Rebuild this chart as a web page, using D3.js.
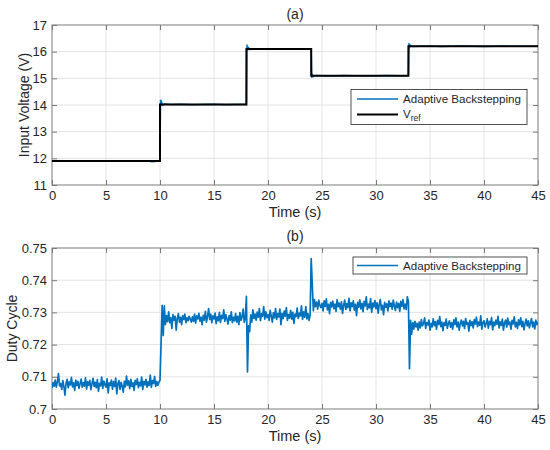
<!DOCTYPE html>
<html><head><meta charset="utf-8">
<script src="https://cdn.jsdelivr.net/npm/d3@7"></script>
<style>body{margin:0;background:#fff}svg{display:block}text{font-family:"Liberation Sans",Arial,Helvetica,sans-serif;fill:#262626}</style>
</head><body><svg id="c" width="550" height="450"></svg>
<script>
// ---- data ----
const xTicks = [0,5,10,15,20,25,30,35,40,45];
const vTicks = [11,12,13,14,15,16,17];
const dTicks = [0.7,0.71,0.72,0.73,0.74,0.75];
const dTickLabels = ["0.7","0.71","0.72","0.73","0.74","0.75"];
const refTimes = [0,10,18,24,33,45];
const refValues = [11.9,14.02,16.1,15.1,16.2,16.2];
const vTime = [0,1,2,3,4,5,6,7,8,9,9.3,9.9,10,10.05,10.1,10.15,10.25,10.4,11,12,13,14,15,16,17,17.95,18,18.05,18.1,18.2,18.35,18.6,19,20,21,22,23,23.95,24,24.05,24.1,24.2,24.4,25,26,27,28,29,30,31,32,32.95,33,33.05,33.1,33.2,33.4,34,35,36,37,38,39,40,41,42,43,44,45];
const vBlue = [11.9,11.91,11.89,11.9,11.91,11.9,11.89,11.9,11.9,11.89,11.87,11.9,11.95,14.2,13.98,14.1,13.99,14.04,14.02,14.03,14.01,14.02,14.03,14.01,14.02,14.02,14.1,16.27,16.05,16.15,16.08,16.11,16.1,16.09,16.11,16.1,16.09,16.1,16.05,15.02,15.15,15.07,15.11,15.1,15.09,15.11,15.1,15.09,15.1,15.11,15.1,15.1,15.15,16.32,16.15,16.24,16.19,16.2,16.21,16.19,16.2,16.21,16.2,16.19,16.2,16.21,16.2,16.2,16.2];
const dStart = 0, dStep = 0.1;
const duty = [
0.7065,0.7082,0.7071,0.7090,0.7068,0.7085,0.7110,0.7072,0.7079,0.7061,
0.7088,0.7070,0.7043,0.7080,0.7092,0.7066,0.7084,0.7075,0.7098,0.7069,
0.7081,0.7058,0.7090,0.7073,0.7086,0.7064,0.7079,0.7093,0.7068,0.7082,
0.7071,0.7097,0.7062,0.7085,0.7074,0.7089,0.7060,0.7078,0.7095,0.7070,
0.7083,0.7066,0.7091,0.7055,0.7080,0.7072,0.7099,0.7064,0.7087,0.7075,
0.7068,0.7094,0.7050,0.7081,0.7073,0.7090,0.7062,0.7085,0.7070,0.7096,
0.7047,0.7079,0.7088,0.7061,0.7083,0.7071,0.7052,0.7086,0.7069,0.7102,
0.7074,0.7087,0.7063,0.7092,0.7070,0.7081,0.7058,0.7089,0.7076,0.7094,
0.7066,0.7083,0.7072,0.7099,0.7061,0.7086,0.7075,0.7092,0.7068,0.7084,
0.7073,0.7105,0.7067,0.7088,0.7079,0.7101,0.7070,0.7086,0.7074,0.7083,
0.7090,0.7205,0.7322,0.7228,0.7320,0.7262,0.7290,0.7271,0.7302,0.7268,
0.7284,0.7250,0.7293,0.7276,0.7288,0.7245,0.7282,0.7296,0.7270,0.7285,
0.7262,0.7290,0.7278,0.7295,0.7268,0.7283,0.7274,0.7288,0.7279,0.7270,
0.7286,0.7272,0.7295,0.7267,0.7289,0.7280,0.7297,0.7273,0.7285,0.7262,
0.7291,0.7276,0.7303,0.7270,0.7287,0.7312,0.7278,0.7295,0.7268,0.7289,
0.7280,0.7298,0.7265,0.7286,0.7274,0.7300,0.7269,0.7291,0.7281,0.7308,
0.7272,0.7293,0.7279,0.7264,0.7290,0.7276,0.7302,0.7268,0.7285,0.7274,
0.7296,0.7270,0.7288,0.7262,0.7299,0.7275,0.7286,0.7310,0.7269,0.7281,
0.7350,0.7115,0.7258,0.7240,0.7292,0.7270,0.7308,0.7281,0.7295,0.7276,
0.7301,0.7285,0.7312,0.7274,0.7296,0.7288,0.7318,0.7279,0.7302,0.7284,
0.7293,0.7275,0.7306,0.7289,0.7270,0.7299,0.7283,0.7312,0.7278,0.7296,
0.7286,0.7310,0.7262,0.7297,0.7281,0.7304,0.7288,0.7315,0.7275,0.7293,
0.7282,0.7306,0.7279,0.7300,0.7266,0.7295,0.7287,0.7313,0.7281,0.7298,
0.7289,0.7320,0.7278,0.7302,0.7285,0.7318,0.7280,0.7296,0.7275,0.7292,
0.7467,0.7385,0.7305,0.7340,0.7318,0.7332,0.7310,0.7338,0.7322,0.7315,
0.7328,0.7305,0.7336,0.7319,0.7342,0.7308,0.7325,0.7296,0.7331,0.7317,
0.7335,0.7312,0.7326,0.7303,0.7340,0.7318,0.7329,0.7310,0.7333,0.7297,
0.7322,0.7338,0.7309,0.7327,0.7315,0.7344,0.7305,0.7330,0.7318,0.7336,
0.7307,0.7325,0.7290,0.7331,0.7316,0.7339,0.7311,0.7328,0.7302,0.7334,
0.7320,0.7348,0.7309,0.7326,0.7314,0.7343,0.7301,0.7329,0.7317,0.7337,
0.7312,0.7330,0.7298,0.7325,0.7340,0.7308,0.7322,0.7293,0.7331,0.7316,
0.7327,0.7305,0.7336,0.7318,0.7329,0.7310,0.7338,0.7320,0.7306,0.7332,
0.7315,0.7328,0.7303,0.7334,0.7319,0.7340,0.7311,0.7326,0.7309,0.7348,
0.7335,0.7125,0.7275,0.7232,0.7268,0.7248,0.7272,0.7255,0.7266,0.7245,
0.7270,0.7252,0.7278,0.7258,0.7265,0.7283,0.7250,0.7268,0.7261,0.7276,
0.7245,0.7266,0.7255,0.7280,0.7259,0.7271,0.7248,0.7275,0.7262,0.7287,
0.7256,0.7270,0.7243,0.7268,0.7260,0.7279,0.7251,0.7265,0.7274,0.7254,
0.7268,0.7248,0.7277,0.7262,0.7283,0.7255,0.7270,0.7245,0.7266,0.7276,
0.7258,0.7272,0.7250,0.7281,0.7263,0.7269,0.7242,0.7275,0.7259,0.7271,
0.7252,0.7278,0.7264,0.7285,0.7256,0.7270,0.7260,0.7289,0.7248,0.7268,
0.7274,0.7255,0.7266,0.7280,0.7251,0.7272,0.7262,0.7284,0.7246,0.7270,
0.7259,0.7276,0.7263,0.7288,0.7252,0.7271,0.7260,0.7279,0.7245,0.7267,
0.7276,0.7254,0.7282,0.7262,0.7270,0.7248,0.7275,0.7264,0.7286,0.7255,
0.7269,0.7250,0.7277,0.7261,0.7283,0.7256,0.7272,0.7246,0.7266,0.7279,
0.7258,0.7274,0.7252,0.7268,0.7281,0.7255,0.7270,0.7249,0.7276,0.7262,
0.7270];

// ---- drawing ----
const svg = d3.select("#c");
const L = 52, R = 538;
const BLUE = "#0072BD", FRAME = "#7a7a7a", GRID = "#e3e3e3";

function panel(top, bottom, yDomain, yT, yLabels, yTitle, title, tickBase, xTitleBase) {
  const x = d3.scaleLinear().domain([0,45]).range([L,R]);
  const y = d3.scaleLinear().domain(yDomain).range([bottom, top]);
  const g = svg.append("g");
  g.append("g").selectAll("line").data(xTicks.slice(1,-1)).join("line")
    .attr("x1",d=>x(d)).attr("x2",d=>x(d)).attr("y1",top).attr("y2",bottom)
    .attr("stroke",GRID).attr("stroke-width",1);
  g.append("g").selectAll("line").data(yT.slice(1,-1)).join("line")
    .attr("y1",d=>y(d)).attr("y2",d=>y(d)).attr("x1",L).attr("x2",R)
    .attr("stroke",GRID).attr("stroke-width",1);
  const tl = 5;
  const axB = g.append("g").attr("transform",`translate(0,${bottom})`)
    .call(d3.axisBottom(x).tickValues(xTicks).tickSizeInner(-tl).tickSizeOuter(0).tickPadding(7));
  const axT = g.append("g").attr("transform",`translate(0,${top})`)
    .call(d3.axisTop(x).tickValues(xTicks).tickSizeInner(-tl).tickSizeOuter(0).tickFormat(""));
  const axL = g.append("g").attr("transform",`translate(${L},0)`)
    .call(d3.axisLeft(y).tickValues(yT).tickSizeInner(-tl).tickSizeOuter(0).tickPadding(5)
      .tickFormat((d,i)=>yLabels[i]));
  const axR = g.append("g").attr("transform",`translate(${R},0)`)
    .call(d3.axisRight(y).tickValues(yT).tickSizeInner(-tl).tickSizeOuter(0).tickFormat(""));
  [axB,axT,axL,axR].forEach(a=>{
    a.select(".domain").remove();
    a.selectAll("line").attr("stroke",FRAME);
    a.selectAll("text").attr("font-size",13).attr("fill","#262626")
      .style("font-family",'"Liberation Sans",Arial,sans-serif');
  });
  axB.selectAll("text").attr("dy",0).attr("y", tickBase - bottom);
  g.append("rect").attr("x",L).attr("y",top).attr("width",R-L).attr("height",bottom-top)
    .attr("fill","none").attr("stroke",FRAME).attr("stroke-width",1);
  svg.append("text").attr("x",(L+R)/2).attr("y",xTitleBase).attr("text-anchor","middle")
    .attr("font-size",14.5).text("Time (s)");
  svg.append("text").attr("transform",`translate(${yTitle.x},${(top+bottom)/2}) rotate(-90)`)
    .attr("text-anchor","middle").attr("font-size",14).text(yTitle.t);
  svg.append("text").attr("x",(L+R)/2).attr("y",title.y).attr("text-anchor","middle")
    .attr("font-size",14).text(title.t);
  const clip = "clip"+Math.round(top);
  svg.append("clipPath").attr("id",clip).append("rect")
    .attr("x",L).attr("y",top).attr("width",R-L).attr("height",bottom-top);
  return {x,y,clip};
}

// panel (a)
const A = panel(25,185,[11,17],vTicks,vTicks.map(String),{x:29,t:"Input Voltage (V)"},{y:19,t:"(a)"},200,217);
const lineA = d3.line().x((d,i)=>A.x(vTime[i])).y(d=>A.y(d));
svg.append("path").datum(vBlue).attr("d",lineA).attr("fill","none")
  .attr("stroke",BLUE).attr("stroke-width",1.5).attr("clip-path",`url(#${A.clip})`);
const lineRef = d3.line().curve(d3.curveStepAfter).x((d,i)=>A.x(refTimes[i])).y(d=>A.y(d));
svg.append("path").datum(refValues).attr("d",lineRef).attr("fill","none")
  .attr("stroke","#000").attr("stroke-width",2).attr("clip-path",`url(#${A.clip})`);

// legend (a)
const lgA = svg.append("g");
lgA.append("rect").attr("x",351).attr("y",89.5).attr("width",176).attr("height",35)
  .attr("fill","#fff").attr("stroke","#262626").attr("stroke-width",0.8);
lgA.append("line").attr("x1",357).attr("x2",398).attr("y1",99).attr("y2",99).attr("stroke",BLUE).attr("stroke-width",1.5);
lgA.append("text").attr("x",403).attr("y",103).attr("font-size",11.6).text("Adaptive Backstepping");
lgA.append("line").attr("x1",357).attr("x2",398).attr("y1",114.5).attr("y2",114.5).attr("stroke","#000").attr("stroke-width",2);
const vr = lgA.append("text").attr("x",403).attr("y",118).attr("font-size",11.6);
vr.append("tspan").text("V");
vr.append("tspan").attr("font-size",8.5).attr("dy",3).text("ref");

// panel (b)
const B = panel(248,409,[0.7,0.75],dTicks,dTickLabels,{x:17,t:"Duty Cycle"},{y:241,t:"(b)"},424,441);
const lineB = d3.line().x((d,i)=>B.x(dStart+i*dStep)).y(d=>B.y(d));
svg.append("path").datum(duty).attr("d",lineB).attr("fill","none")
  .attr("stroke",BLUE).attr("stroke-width",1.7).attr("stroke-linejoin","round").attr("clip-path",`url(#${B.clip})`);
const lgB = svg.append("g");
lgB.append("rect").attr("x",353).attr("y",257).attr("width",174).attr("height",17)
  .attr("fill","#fff").attr("stroke","#262626").attr("stroke-width",0.8);
lgB.append("line").attr("x1",357).attr("x2",398).attr("y1",265.5).attr("y2",265.5).attr("stroke",BLUE).attr("stroke-width",1.7);
lgB.append("text").attr("x",403).attr("y",270).attr("font-size",11.6).text("Adaptive Backstepping");
</script></body></html>
